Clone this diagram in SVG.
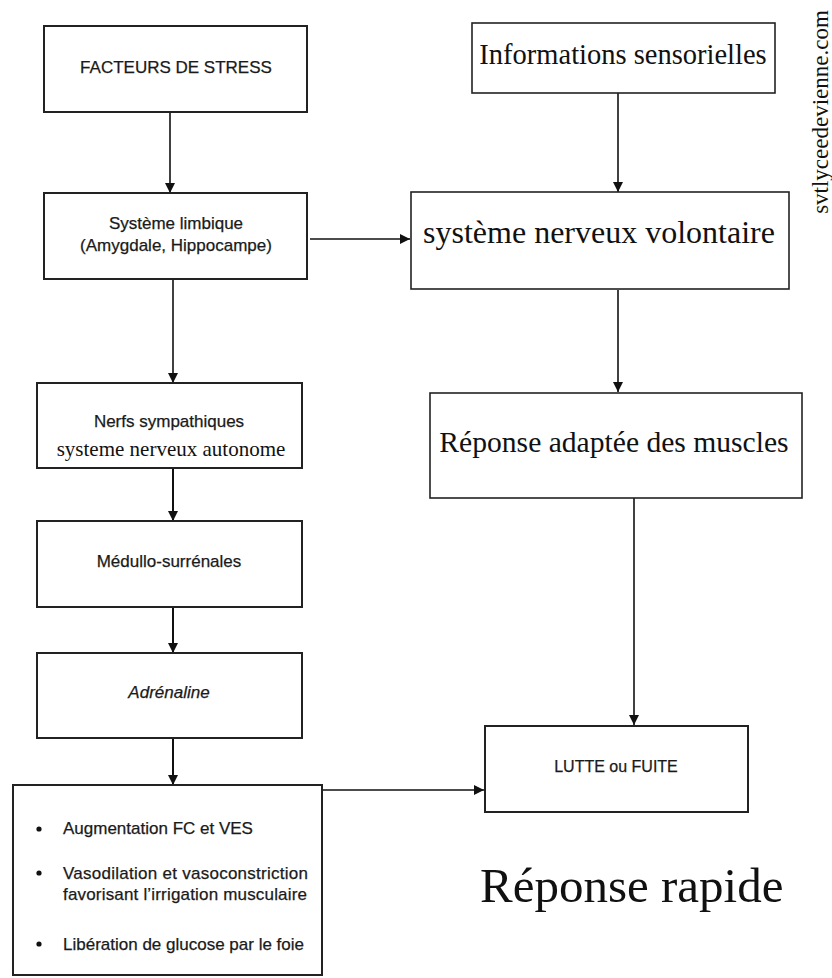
<svg xmlns="http://www.w3.org/2000/svg" width="832" height="978" viewBox="0 0 832 978">
<style>
.box{fill:#fff;stroke:#222;stroke-width:2}
.box2{fill:#fff;stroke:#222;stroke-width:1.6}
.sans{font-family:"Liberation Sans",Arial,sans-serif;fill:#1a1a1a;stroke:#1a1a1a;stroke-width:0.25}
.serif{font-family:"Liberation Serif","Times New Roman",serif;fill:#111}
.c{text-anchor:middle}
.ln{stroke:#111;stroke-width:1.6;fill:none}
</style>
<defs>
<marker id="ah" viewBox="0 0 10 10" refX="10" refY="5" markerWidth="10" markerHeight="10" markerUnits="userSpaceOnUse" orient="auto">
<path d="M0,0 L10,5 L0,10 z" fill="#111"/>
</marker>
</defs>
<rect width="832" height="978" fill="#fff"/>
<g id="connectors">
<line class="ln" x1="170" y1="112" x2="170" y2="193" marker-end="url(#ah)"/>
<line class="ln" x1="310" y1="239" x2="410" y2="239" marker-end="url(#ah)"/>
<line class="ln" x1="173" y1="280" x2="173" y2="383" marker-end="url(#ah)"/>
<line class="ln" x1="173" y1="468" x2="173" y2="521" marker-end="url(#ah)" style="stroke-width:2"/>
<line class="ln" x1="173" y1="607" x2="173" y2="653" marker-end="url(#ah)" style="stroke-width:2"/>
<line class="ln" x1="173" y1="738" x2="173" y2="785" marker-end="url(#ah)" style="stroke-width:2"/>
<line class="ln" x1="322" y1="790" x2="484" y2="790" marker-end="url(#ah)"/>
<line class="ln" x1="618" y1="93" x2="618" y2="192" marker-end="url(#ah)"/>
<line class="ln" x1="618" y1="290" x2="618" y2="392" marker-end="url(#ah)"/>
<line class="ln" x1="634" y1="498" x2="634" y2="725" marker-end="url(#ah)"/>
</g>
<g id="stress">
<rect class="box" x="44" y="26" width="263" height="86"/>
<text class="sans c" x="176" y="73" font-size="17">FACTEURS DE STRESS</text>
</g>
<g id="limbique">
<rect class="box" x="44" y="193" width="263" height="86"/>
<text class="sans c" x="176" y="229" font-size="17">Système limbique</text>
<text class="sans c" x="176" y="251" font-size="17">(Amygdale, Hippocampe)</text>
</g>
<g id="nerfs">
<rect class="box" x="37" y="383" width="265" height="85"/>
<text class="sans c" x="169" y="427" font-size="17">Nerfs sympathiques</text>
<text class="serif c" x="171" y="456" font-size="21">systeme nerveux autonome</text>
</g>
<g id="medullo">
<rect class="box" x="37" y="521" width="265" height="86"/>
<text class="sans c" x="169" y="567" font-size="17">Médullo-surrénales</text>
</g>
<g id="adrenaline">
<rect class="box" x="37" y="653" width="265" height="85"/>
<text class="sans c" x="169" y="698" font-size="17" font-style="italic">Adrénaline</text>
</g>
<g id="effets">
<rect class="box" x="13" y="785" width="309" height="190"/>
<circle cx="39" cy="829" r="2.6" fill="#111"/>
<text class="sans" x="63" y="834" font-size="17">Augmentation FC et VES</text>
<circle cx="39" cy="873" r="2.6" fill="#111"/>
<text class="sans" x="63" y="879" font-size="17" textLength="245" lengthAdjust="spacing">Vasodilation et vasoconstriction</text>
<text class="sans" x="63" y="900" font-size="17" textLength="244" lengthAdjust="spacing">favorisant l’irrigation musculaire</text>
<circle cx="39" cy="944" r="2.6" fill="#111"/>
<text class="sans" x="63" y="950" font-size="17">Libération de glucose par le foie</text>
</g>
<g id="informations">
<rect class="box2" x="472" y="23" width="303" height="70"/>
<text class="serif c" x="623" y="64" font-size="28.5">Informations sensorielles</text>
</g>
<g id="volontaire">
<rect class="box2" x="411" y="192" width="378" height="97"/>
<text class="serif c" x="599" y="243" font-size="32">système nerveux volontaire</text>
</g>
<g id="muscles">
<rect class="box2" x="430" y="393" width="372" height="105"/>
<text class="serif c" x="614" y="452" font-size="29.6">Réponse adaptée des muscles</text>
</g>
<g id="lutte">
<rect class="box" x="485" y="726" width="263" height="86"/>
<text class="sans c" x="616" y="772" font-size="16">LUTTE ou FUITE</text>
</g>
<text class="serif" x="480" y="902" font-size="49">Réponse rapide</text>
<text class="serif c" x="0" y="0" font-size="23" transform="translate(828,112) rotate(-90)">svtlyceedevienne.com</text>
</svg>
